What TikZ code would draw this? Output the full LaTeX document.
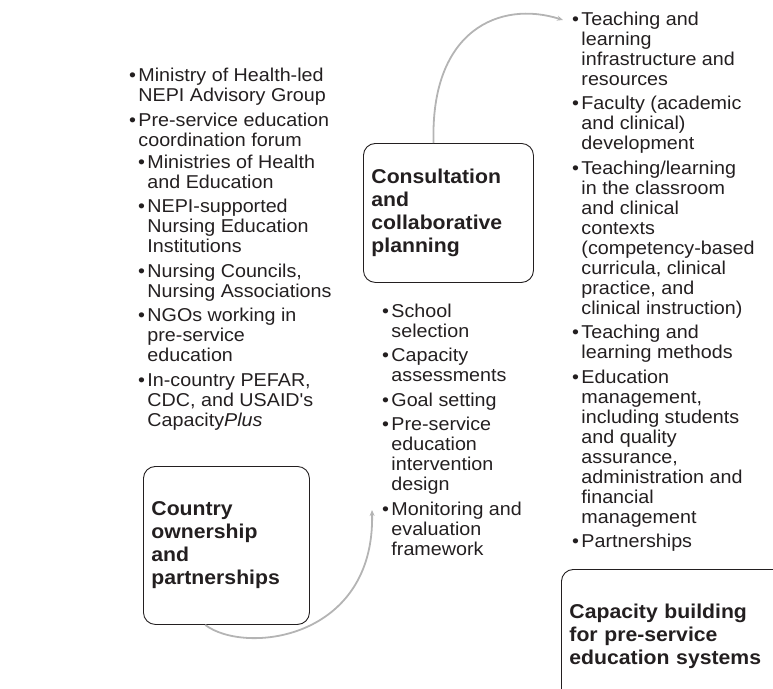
\documentclass[tikz,border=0pt]{standalone}
\usepackage{fontspec}
\setmainfont[FakeStretch=1.06]{Liberation Sans}
\usetikzlibrary{arrows.meta, positioning}
\definecolor{cink}{HTML}{231F20}
\definecolor{cgrey}{HTML}{B4B4B4}
\newcommand{\bul}{\llap{\textbullet\hspace{2.5pt}}}
\tikzset{
  every picture/.style={line width=0.9pt},
  stage/.style={draw=cink, text=cink, rounded corners=12pt, align=left, inner xsep=8pt, inner ysep=0pt, anchor=north west, font=\fontsize{20}{23}\selectfont\bfseries},
  list/.style={text=cink, align=left, inner sep=0pt, anchor=north west, font=\fontsize{18.6}{20}\selectfont},
  arrow/.style={-{Stealth[length=6pt, width=5pt]}, draw=cgrey, line width=1.8pt},
}

\begin{document}
\begin{tikzpicture}[x=1pt, y=-1pt]
  \useasboundingbox (0,0) rectangle (773,688);
  \clip (0,0) rectangle (773,688);
  % ---------- stages
  \node[stage, text width=150pt, minimum height=158pt] (ownership) at (143,466) {Country\\ ownership\\ and\\ partnerships};
  \node[stage, text width=154pt, minimum height=139pt] (consult) at (363,143) {Consultation\\ and\\ collaborative\\ planning};
  \node[stage, text width=222pt, minimum height=134pt] (capacity) at (561,569) {Capacity building\\ for pre-service\\ education systems\\[20pt]};
  % ---------- lists
  \node[list] (advisory) at (138,68) {\bul Ministry of Health-led\\ NEPI Advisory Group\\[4.5pt]
    \bul Pre-service education\\ coordination forum};
  \node[list] (forum) at (147,154.5) {\bul Ministries of Health\\ and Education\\[4.5pt]
    \bul NEPI-supported\\ Nursing Education\\ Institutions\\[4.5pt]
    \bul Nursing Councils,\\ Nursing Associations\\[4.5pt]
    \bul NGOs working in\\ pre-service\\ education\\[4.5pt]
    \bul In-country PEFAR,\\ CDC, and USAID\textquotesingle s\\ Capacity\textit{Plus}};
  \node[list] (plan) at (391,303.5) {\bul School\\ selection\\[4.5pt]
    \bul Capacity\\ assessments\\[4.5pt]
    \bul Goal setting\\[4.5pt]
    \bul Pre-service\\ education\\ intervention\\ design\\[4.5pt]
    \bul Monitoring and\\ evaluation\\ framework};
  \node[list] (areas) at (581,11.5) {\bul Teaching and\\ learning\\ infrastructure and\\ resources\\[4.5pt]
    \bul Faculty (academic\\ and clinical)\\ development\\[4.5pt]
    \bul Teaching/learning\\ in the classroom\\ and clinical\\ contexts\\ (competency-based\\ curricula, clinical\\ practice, and\\ clinical instruction)\\[4.5pt]
    \bul Teaching and\\ learning methods\\[4.5pt]
    \bul Education\\ management,\\ including students\\ and quality\\ assurance,\\ administration and\\ financial\\ management\\[4.5pt]
    \bul Partnerships};
  % ---------- arrows
  \coordinate (plantip) at (372,510);
  \coordinate (areastip) at (563,20);
  \draw[arrow] (ownership.-105) .. controls (245,655) and (375,640) .. (plantip);
  \draw[arrow] (consult.102) .. controls (430,30) and (500,0) .. (areastip);
\end{tikzpicture}
\end{document}
